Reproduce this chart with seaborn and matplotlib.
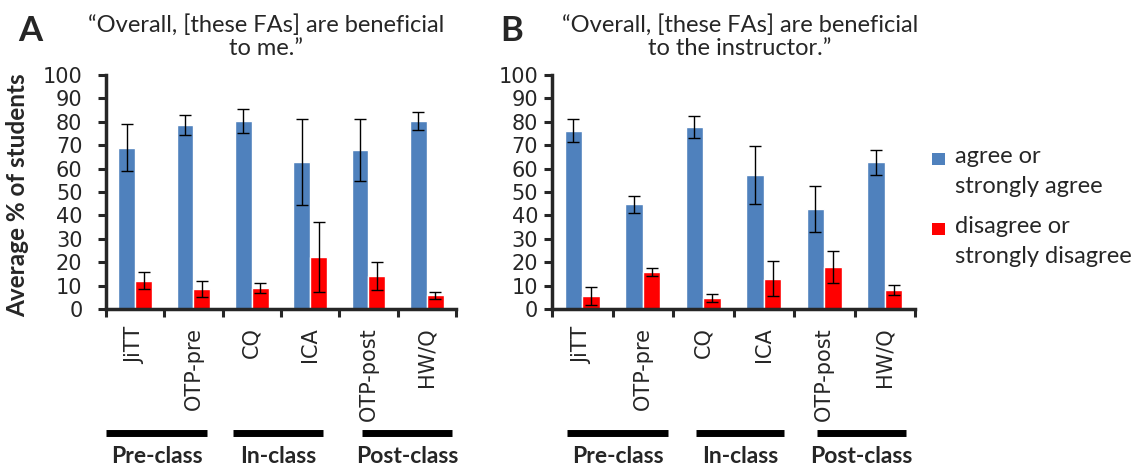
import matplotlib
matplotlib.use("Agg")
import numpy as np
import pandas as pd
import seaborn as sns
import matplotlib.pyplot as plt
import matplotlib.transforms as mtransforms
from matplotlib.patches import Rectangle

# -------------------------------
# Data
# -------------------------------
categories = ["JiTT", "OTP-pre", "CQ", "ICA", "OTP-post", "HW/Q"]
series = ["agree or\nstrongly agree", "disagree or\nstrongly disagree"]
groups = ["Pre-class", "In-class", "Post-class"]

me_agree = [69.0, 78.7, 80.4, 62.9, 67.9, 80.4]
me_agree_err = [10.0, 4.3, 5.0, 18.4, 13.1, 3.7]
me_disagree = [12.1, 8.5, 9.0, 22.2, 14.2, 5.8]
me_disagree_err = [3.7, 3.4, 2.3, 15.1, 6.0, 1.6]

inst_agree = [76.2, 44.8, 77.7, 57.2, 42.7, 62.7]
inst_agree_err = [4.8, 3.7, 4.7, 12.3, 9.9, 5.4]
inst_disagree = [5.4, 15.9, 4.6, 12.9, 17.8, 8.1]
inst_disagree_err = [3.9, 1.8, 1.8, 7.5, 6.8, 2.1]

titles = ["\u201cOverall, [these FAs] are beneficial\nto me.\u201d",
          "\u201cOverall, [these FAs] are beneficial\nto the instructor.\u201d"]

BLUE = "#4F81BD"
RED = "#FF0000"
CAL = ["Lato", "DejaVu Sans"]

sns.set_style("ticks")
plt.rcParams["font.family"] = ["DejaVu Sans"]

fig = plt.figure(figsize=(11.36, 4.72), dpi=100)
ax_a = fig.add_axes([106 / 1136, 163 / 472, 350 / 1136, 234 / 472])
ax_b = fig.add_axes([552 / 1136, 163 / 472, 363 / 1136, 234 / 472])


def px(x, y):
    # pixel position (from top-left) -> figure fraction
    return x / 1136, 1 - y / 472


def draw_panel(ax, agree, agree_err, disagree, disagree_err, ypad, spans):
    df = pd.DataFrame({
        "category": categories * 2,
        "series": [series[0]] * len(categories) + [series[1]] * len(categories),
        "value": agree + disagree,
    })
    sns.barplot(data=df, x="category", y="value", hue="series",
                order=categories, hue_order=series, palette=[BLUE, RED],
                saturation=1, width=0.58, gap=0, errorbar=None,
                legend=False, ax=ax)
    for container, err in zip(ax.containers, [agree_err, disagree_err]):
        xs = [p.get_x() + p.get_width() / 2 for p in container]
        ys = [p.get_height() for p in container]
        ax.errorbar(xs, ys, yerr=err, fmt="none", ecolor="black",
                    elinewidth=1, capsize=4, capthick=1)

    ax.set_ylim(0, 100)
    ax.set_xlim(-0.5, len(categories) - 0.5)
    ax.set_yticks(range(0, 101, 10))
    ax.set_xticks(np.arange(-0.5, len(categories), 1))
    ax.set_xticklabels([])
    ax.set_xticks(range(len(categories)), minor=True)
    ax.set_xticklabels(categories, minor=True, rotation=90, fontsize=15)
    ax.set_xlabel("")
    ax.set_ylabel("")
    ax.tick_params(axis="both", which="major", direction="out",
                   length=6, width=2.2, labelsize=15)
    ax.tick_params(axis="y", pad=ypad)
    ax.tick_params(axis="x", which="minor", length=0, pad=13)
    for side in ["top", "right"]:
        ax.spines[side].set_visible(False)
    for side in ["left", "bottom"]:
        ax.spines[side].set_linewidth(2.5)

    # group bars under the category labels
    trans = mtransforms.blended_transform_factory(ax.transData, ax.transAxes)
    for name, (x0, x1) in zip(groups, spans):
        ax.plot([x0, x1], [-0.53, -0.53], transform=trans, color="black",
                lw=5, solid_capstyle="butt", clip_on=False)
        ax.text((x0 + x1) / 2, -0.63, name, transform=trans, ha="center",
                va="center", fontsize=16.5, fontweight="bold", family=CAL)


draw_panel(ax_a, me_agree, me_agree_err, me_disagree, me_disagree_err, 11,
           [(-0.5, 1.23), (1.68, 3.22), (3.89, 5.43)])
draw_panel(ax_b, inst_agree, inst_agree_err, inst_disagree, inst_disagree_err, 4,
           [(-0.25, 1.42), (1.88, 3.33), (3.88, 5.35)])

# titles, one line at a time on the reference baselines
for title, xc in zip(titles, [266, 740]):
    for line, yb in zip(title.split("\n"), [31.5, 55]):
        fig.text(*px(xc, yb), line, ha="center", va="baseline",
                 fontsize=17, family=CAL)

fig.text(*px(30, 31), "A", ha="center", va="center",
         fontsize=25, fontweight="bold", family=CAL)
fig.text(*px(512, 31), "B", ha="center", va="center",
         fontsize=25, fontweight="bold", family=CAL)

fig.text(*px(18, 195), "Average % of students", rotation=90,
         ha="center", va="center", fontsize=17.5, fontweight="bold", family=CAL)

# legend: square next to the first line of each entry
for color, label, ytop in zip([BLUE, RED], series, [153, 223]):
    fig.add_artist(Rectangle(px(932, ytop + 12), 13 / 1136, 12 / 472,
                             transform=fig.transFigure, facecolor=color,
                             edgecolor="none"))
    for k, line in enumerate(label.split("\n")):
        fig.text(*px(955, ytop + 10 + 30 * k), line, ha="left",
                 va="baseline", fontsize=17, family=CAL)

fig.savefig("out.png", dpi=100)
